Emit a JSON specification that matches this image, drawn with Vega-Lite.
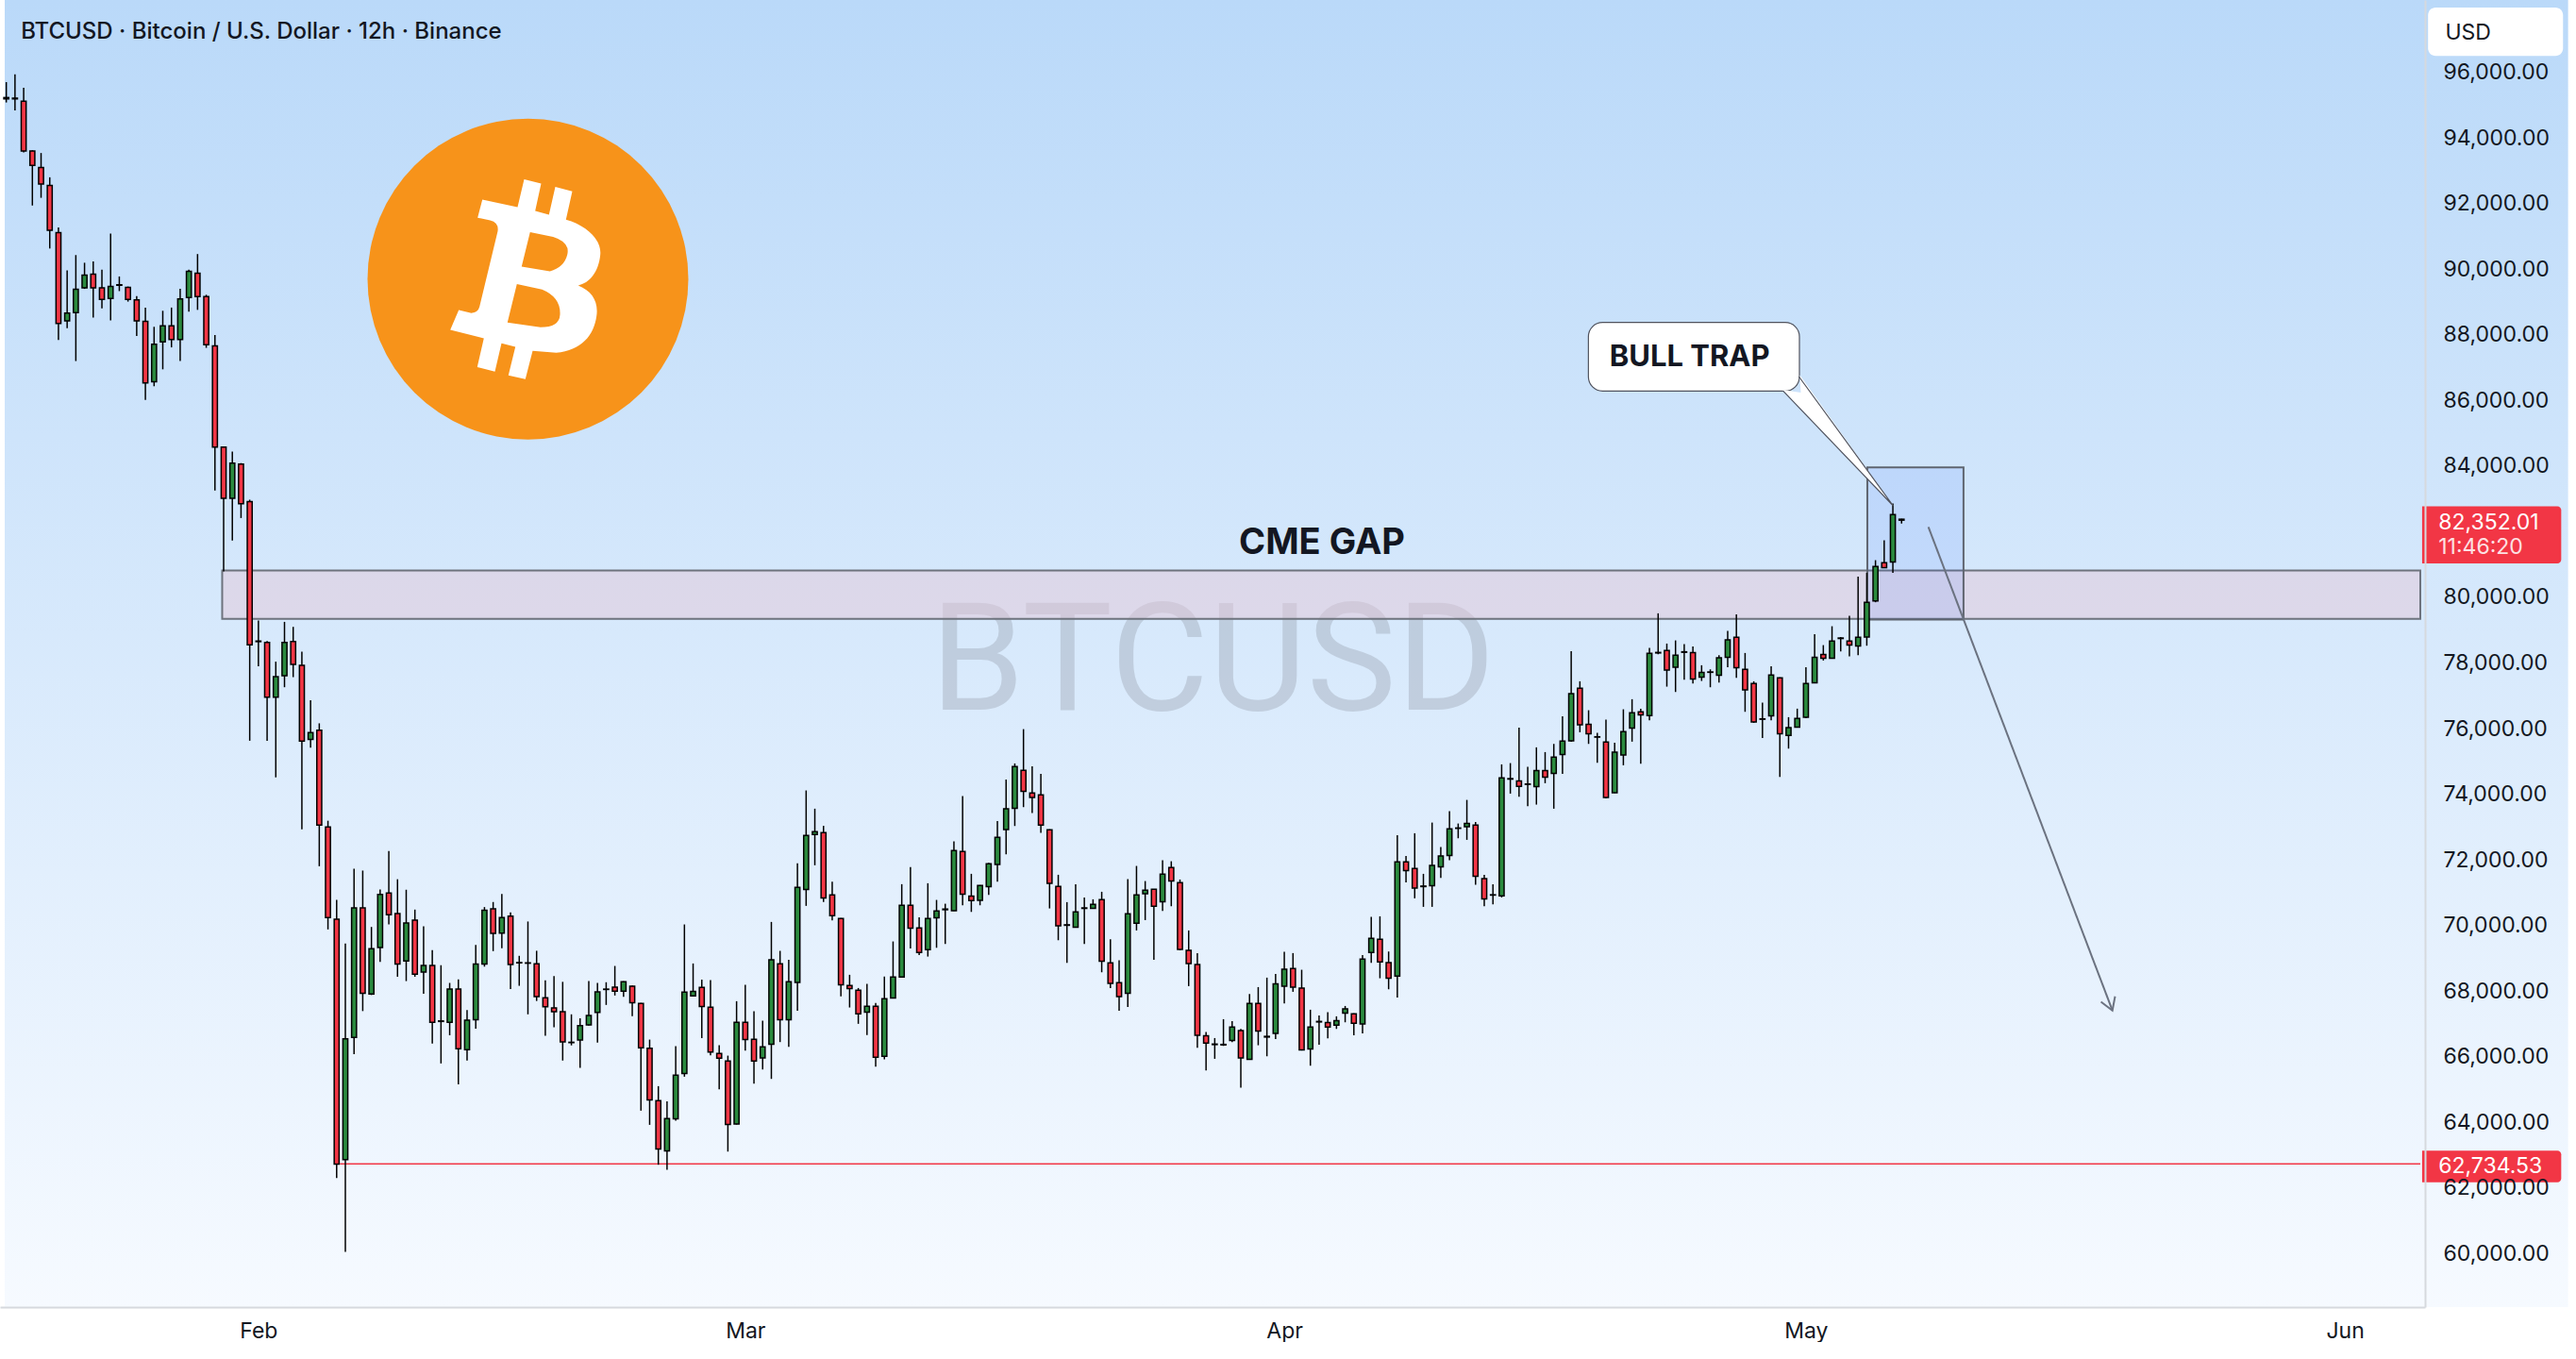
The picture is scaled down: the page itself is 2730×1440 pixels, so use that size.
{
  "$schema": "https://vega.github.io/schema/vega-lite/v6.json",
  "width": 2570,
  "height": 1385,
  "padding": 0,
  "background": "#ffffff",
  "config": {
    "view": {"stroke": null},
    "text": {"font": "Inter"},
    "axis": {"ticks": false, "tickSize": 0, "grid": false, "domainColor": "#d6d9de", "domainWidth": 2, "labelFont": "Inter", "labelFontSize": 23, "labelColor": "#131722", "labelFlush": false, "labelOverlap": false, "zindex": 1},
    "axisX": {"labelPadding": 14},
    "axisY": {"labelPadding": 19, "labelAlign": "left", "labelBaseline": "middle"}
  },
  "datasets": {
    "candles": [
      {"t":"2025-01-17T12:00","o":95230,"h":95700,"l":95080,"c":95190},
      {"t":"2025-01-18T00:00","o":95190,"h":95940,"l":94840,"c":95210},
      {"t":"2025-01-18T12:00","o":95120,"h":95530,"l":93560,"c":93600},
      {"t":"2025-01-19T00:00","o":93600,"h":93620,"l":91940,"c":93165},
      {"t":"2025-01-19T12:00","o":93095,"h":93540,"l":92175,"c":92594},
      {"t":"2025-01-20T00:00","o":92552,"h":92800,"l":90630,"c":91186},
      {"t":"2025-01-20T12:00","o":91116,"h":91270,"l":87840,"c":88342},
      {"t":"2025-01-21T00:00","o":88425,"h":89960,"l":88200,"c":88662},
      {"t":"2025-01-21T12:00","o":88676,"h":90430,"l":87200,"c":89387},
      {"t":"2025-01-22T00:00","o":89429,"h":90196,"l":89400,"c":89819},
      {"t":"2025-01-22T12:00","o":89847,"h":90238,"l":88523,"c":89429},
      {"t":"2025-01-23T00:00","o":89429,"h":89987,"l":88802,"c":89080},
      {"t":"2025-01-23T12:00","o":89108,"h":91088,"l":88439,"c":89471},
      {"t":"2025-01-24T00:00","o":89527,"h":89778,"l":89332,"c":89510},
      {"t":"2025-01-24T12:00","o":89443,"h":89470,"l":89011,"c":89080},
      {"t":"2025-01-25T00:00","o":89067,"h":89178,"l":87965,"c":88426},
      {"t":"2025-01-25T12:00","o":88412,"h":88830,"l":86014,"c":86530},
      {"t":"2025-01-26T00:00","o":86572,"h":88244,"l":86432,"c":87714},
      {"t":"2025-01-26T12:00","o":87784,"h":88732,"l":86948,"c":88272},
      {"t":"2025-01-27T00:00","o":88272,"h":88830,"l":87617,"c":87854},
      {"t":"2025-01-27T12:00","o":87854,"h":89401,"l":87199,"c":89094},
      {"t":"2025-01-28T00:00","o":89136,"h":89987,"l":88704,"c":89931},
      {"t":"2025-01-28T12:00","o":89875,"h":90461,"l":88760,"c":89164},
      {"t":"2025-01-29T00:00","o":89164,"h":89220,"l":87603,"c":87700},
      {"t":"2025-01-29T12:00","o":87659,"h":87993,"l":83254,"c":84578},
      {"t":"2025-01-30T00:00","o":84578,"h":84600,"l":80786,"c":83017},
      {"t":"2025-01-30T12:00","o":83017,"h":84438,"l":81734,"c":84090},
      {"t":"2025-01-31T00:00","o":84062,"h":84090,"l":82417,"c":82849},
      {"t":"2025-01-31T12:00","o":82919,"h":82975,"l":75629,"c":78556},
      {"t":"2025-02-01T00:00","o":78667,"h":79293,"l":77901,"c":78650},
      {"t":"2025-02-01T12:00","o":78626,"h":78667,"l":75629,"c":76953},
      {"t":"2025-02-02T00:00","o":76953,"h":78040,"l":74513,"c":77580},
      {"t":"2025-02-02T12:00","o":77608,"h":79253,"l":77260,"c":78626},
      {"t":"2025-02-03T00:00","o":78654,"h":79100,"l":77567,"c":77957},
      {"t":"2025-02-03T12:00","o":77929,"h":78347,"l":72927,"c":75620},
      {"t":"2025-02-04T00:00","o":75670,"h":76860,"l":75420,"c":75880},
      {"t":"2025-02-04T12:00","o":75950,"h":76160,"l":71805,"c":73059},
      {"t":"2025-02-05T00:00","o":73004,"h":73192,"l":69879,"c":70242},
      {"t":"2025-02-05T12:00","o":70187,"h":70781,"l":62306,"c":62724},
      {"t":"2025-02-06T00:00","o":62867,"h":69449,"l":60049,"c":66543},
      {"t":"2025-02-06T12:00","o":66588,"h":71728,"l":66081,"c":70539},
      {"t":"2025-02-07T00:00","o":70539,"h":71673,"l":67391,"c":67930},
      {"t":"2025-02-07T12:00","o":67908,"h":69955,"l":67880,"c":69295},
      {"t":"2025-02-08T00:00","o":69328,"h":71100,"l":68888,"c":70946},
      {"t":"2025-02-08T12:00","o":70990,"h":72267,"l":70033,"c":70330},
      {"t":"2025-02-09T00:00","o":70363,"h":71409,"l":68437,"c":68822},
      {"t":"2025-02-09T12:00","o":68921,"h":71089,"l":68305,"c":70077},
      {"t":"2025-02-10T00:00","o":70165,"h":70484,"l":68437,"c":68514},
      {"t":"2025-02-10T12:00","o":68580,"h":69978,"l":67919,"c":68778},
      {"t":"2025-02-11T00:00","o":68778,"h":69251,"l":66400,"c":67050},
      {"t":"2025-02-11T12:00","o":67090,"h":68789,"l":65795,"c":67075},
      {"t":"2025-02-12T00:00","o":67050,"h":68249,"l":66653,"c":68062},
      {"t":"2025-02-12T12:00","o":68062,"h":68359,"l":65156,"c":66246},
      {"t":"2025-02-13T00:00","o":66213,"h":67424,"l":65883,"c":67116},
      {"t":"2025-02-13T12:00","o":67127,"h":69405,"l":66851,"c":68822},
      {"t":"2025-02-14T00:00","o":68822,"h":70561,"l":68745,"c":70462},
      {"t":"2025-02-14T12:00","o":70506,"h":70715,"l":69218,"c":69757},
      {"t":"2025-02-15T00:00","o":69768,"h":70957,"l":69306,"c":70242},
      {"t":"2025-02-15T12:00","o":70286,"h":70396,"l":68062,"c":68811},
      {"t":"2025-02-16T00:00","o":68870,"h":69075,"l":68161,"c":68860},
      {"t":"2025-02-16T12:00","o":68860,"h":70121,"l":67292,"c":68850},
      {"t":"2025-02-17T00:00","o":68833,"h":69229,"l":67699,"c":67831},
      {"t":"2025-02-17T12:00","o":67798,"h":68326,"l":66642,"c":67523},
      {"t":"2025-02-18T00:00","o":67490,"h":68459,"l":66895,"c":67369},
      {"t":"2025-02-18T12:00","o":67369,"h":68282,"l":65883,"c":66455},
      {"t":"2025-02-19T00:00","o":66440,"h":67292,"l":66345,"c":66430},
      {"t":"2025-02-19T12:00","o":66510,"h":67171,"l":65663,"c":66950},
      {"t":"2025-02-20T00:00","o":66972,"h":68304,"l":66950,"c":67259},
      {"t":"2025-02-20T12:00","o":67347,"h":68249,"l":66433,"c":67974},
      {"t":"2025-02-21T00:00","o":68050,"h":68270,"l":67578,"c":68060},
      {"t":"2025-02-21T12:00","o":68120,"h":68766,"l":67865,"c":68000},
      {"t":"2025-02-22T00:00","o":67999,"h":68300,"l":67826,"c":68286},
      {"t":"2025-02-22T12:00","o":68152,"h":68170,"l":67232,"c":67644},
      {"t":"2025-02-23T00:00","o":67625,"h":67640,"l":64356,"c":66273},
      {"t":"2025-02-23T12:00","o":66254,"h":66522,"l":63924,"c":64682},
      {"t":"2025-02-24T00:00","o":64663,"h":65103,"l":62707,"c":63186},
      {"t":"2025-02-24T12:00","o":63129,"h":64643,"l":62553,"c":64116},
      {"t":"2025-02-25T00:00","o":64107,"h":66321,"l":64049,"c":65439},
      {"t":"2025-02-25T12:00","o":65487,"h":70031,"l":65391,"c":67970},
      {"t":"2025-02-26T00:00","o":67855,"h":68842,"l":67840,"c":67989},
      {"t":"2025-02-26T12:00","o":68114,"h":68353,"l":66570,"c":67529},
      {"t":"2025-02-27T00:00","o":67510,"h":68334,"l":66043,"c":66139},
      {"t":"2025-02-27T12:00","o":66101,"h":66350,"l":65008,"c":65957},
      {"t":"2025-02-28T00:00","o":65871,"h":66033,"l":63109,"c":63934},
      {"t":"2025-02-28T12:00","o":63953,"h":67692,"l":63934,"c":67050},
      {"t":"2025-03-01T00:00","o":67050,"h":68190,"l":66187,"c":66523},
      {"t":"2025-03-01T12:00","o":66532,"h":67385,"l":65180,"c":65871},
      {"t":"2025-03-02T00:00","o":65966,"h":67098,"l":65611,"c":66302},
      {"t":"2025-03-02T12:00","o":66378,"h":70108,"l":65324,"c":68957},
      {"t":"2025-03-03T00:00","o":68833,"h":69226,"l":66446,"c":67126},
      {"t":"2025-03-03T12:00","o":67126,"h":68957,"l":66302,"c":68286},
      {"t":"2025-03-04T00:00","o":68267,"h":71891,"l":67404,"c":71162},
      {"t":"2025-03-04T12:00","o":71095,"h":74115,"l":70597,"c":72744},
      {"t":"2025-03-05T00:00","o":72773,"h":73559,"l":71834,"c":72859},
      {"t":"2025-03-05T12:00","o":72830,"h":73041,"l":70712,"c":70836},
      {"t":"2025-03-06T00:00","o":70932,"h":71335,"l":70156,"c":70299},
      {"t":"2025-03-06T12:00","o":70213,"h":70230,"l":67836,"c":68190},
      {"t":"2025-03-07T00:00","o":68171,"h":68497,"l":67500,"c":68075},
      {"t":"2025-03-07T12:00","o":68027,"h":68094,"l":67002,"c":67308},
      {"t":"2025-03-08T00:00","o":67356,"h":68219,"l":66657,"c":67539},
      {"t":"2025-03-08T12:00","o":67539,"h":67635,"l":65698,"c":65985},
      {"t":"2025-03-09T00:00","o":66014,"h":68440,"l":65918,"c":67769},
      {"t":"2025-03-09T12:00","o":67788,"h":69513,"l":67780,"c":68430},
      {"t":"2025-03-10T00:00","o":68430,"h":71258,"l":68420,"c":70616},
      {"t":"2025-03-10T12:00","o":70616,"h":71776,"l":69302,"c":69916},
      {"t":"2025-03-11T00:00","o":69924,"h":70250,"l":69100,"c":69177},
      {"t":"2025-03-11T12:00","o":69263,"h":71286,"l":69052,"c":70212},
      {"t":"2025-03-12T00:00","o":70231,"h":70778,"l":69320,"c":70442},
      {"t":"2025-03-12T12:00","o":70480,"h":70663,"l":69436,"c":70500},
      {"t":"2025-03-13T00:00","o":70452,"h":72561,"l":70440,"c":72283},
      {"t":"2025-03-13T12:00","o":72254,"h":73941,"l":70615,"c":70950},
      {"t":"2025-03-14T00:00","o":70893,"h":71574,"l":70413,"c":70759},
      {"t":"2025-03-14T12:00","o":70768,"h":71230,"l":70615,"c":71219},
      {"t":"2025-03-15T00:00","o":71180,"h":71909,"l":70931,"c":71880},
      {"t":"2025-03-15T12:00","o":71861,"h":73184,"l":71334,"c":72686},
      {"t":"2025-03-16T00:00","o":72925,"h":74450,"l":72168,"c":73558},
      {"t":"2025-03-16T12:00","o":73567,"h":74938,"l":73031,"c":74843},
      {"t":"2025-03-17T00:00","o":74728,"h":75983,"l":73606,"c":74085},
      {"t":"2025-03-17T12:00","o":74037,"h":74852,"l":73424,"c":73903},
      {"t":"2025-03-18T00:00","o":73980,"h":74622,"l":72820,"c":73060},
      {"t":"2025-03-18T12:00","o":72916,"h":72930,"l":70519,"c":71286},
      {"t":"2025-03-19T00:00","o":71190,"h":71545,"l":69550,"c":69992},
      {"t":"2025-03-19T12:00","o":70020,"h":70711,"l":68860,"c":70005},
      {"t":"2025-03-20T00:00","o":69944,"h":71257,"l":69930,"c":70413},
      {"t":"2025-03-20T12:00","o":70520,"h":70854,"l":69436,"c":70535},
      {"t":"2025-03-21T00:00","o":70519,"h":70797,"l":70510,"c":70643},
      {"t":"2025-03-21T12:00","o":70787,"h":71027,"l":68573,"c":68908},
      {"t":"2025-03-22T00:00","o":68860,"h":69579,"l":68093,"c":68237},
      {"t":"2025-03-22T12:00","o":68257,"h":68937,"l":67403,"c":67835},
      {"t":"2025-03-23T00:00","o":67930,"h":71410,"l":67518,"c":70356},
      {"t":"2025-03-23T12:00","o":70068,"h":71814,"l":69848,"c":70931},
      {"t":"2025-03-24T00:00","o":70970,"h":71353,"l":70164,"c":71075},
      {"t":"2025-03-24T12:00","o":71104,"h":71110,"l":68956,"c":70586},
      {"t":"2025-03-25T00:00","o":70720,"h":71986,"l":70442,"c":71564},
      {"t":"2025-03-25T12:00","o":71765,"h":71957,"l":70586,"c":71353},
      {"t":"2025-03-26T00:00","o":71305,"h":71401,"l":69244,"c":69273},
      {"t":"2025-03-26T12:00","o":69244,"h":69848,"l":68151,"c":68841},
      {"t":"2025-03-27T00:00","o":68812,"h":69157,"l":66272,"c":66655},
      {"t":"2025-03-27T12:00","o":66636,"h":66751,"l":65582,"c":66416},
      {"t":"2025-03-28T00:00","o":66385,"h":66569,"l":65936,"c":66370},
      {"t":"2025-03-28T12:00","o":66375,"h":67144,"l":66330,"c":66360},
      {"t":"2025-03-29T00:00","o":66493,"h":67087,"l":66445,"c":66905},
      {"t":"2025-03-29T12:00","o":66799,"h":66847,"l":65054,"c":65965},
      {"t":"2025-03-30T00:00","o":65917,"h":67911,"l":65910,"c":67624},
      {"t":"2025-03-30T12:00","o":67624,"h":68122,"l":66349,"c":66780},
      {"t":"2025-03-31T00:00","o":66620,"h":68410,"l":66013,"c":66600},
      {"t":"2025-03-31T12:00","o":66713,"h":68525,"l":66540,"c":68218},
      {"t":"2025-04-01T00:00","o":68151,"h":69196,"l":67624,"c":68669},
      {"t":"2025-04-01T12:00","o":68688,"h":69158,"l":67978,"c":68122},
      {"t":"2025-04-02T00:00","o":68093,"h":68650,"l":66190,"c":66205},
      {"t":"2025-04-02T12:00","o":66234,"h":67432,"l":65726,"c":66905},
      {"t":"2025-04-03T00:00","o":67075,"h":67260,"l":66368,"c":67060},
      {"t":"2025-04-03T12:00","o":67039,"h":67355,"l":66560,"c":66905},
      {"t":"2025-04-04T00:00","o":66962,"h":67231,"l":66847,"c":67096},
      {"t":"2025-04-04T12:00","o":67326,"h":67547,"l":67049,"c":67461},
      {"t":"2025-04-05T00:00","o":67307,"h":67320,"l":66656,"c":67020},
      {"t":"2025-04-05T12:00","o":67000,"h":69100,"l":66713,"c":68975},
      {"t":"2025-04-06T00:00","o":69177,"h":70260,"l":68861,"c":69608},
      {"t":"2025-04-06T12:00","o":69579,"h":70279,"l":68391,"c":68889},
      {"t":"2025-04-07T00:00","o":68870,"h":69206,"l":68055,"c":68391},
      {"t":"2025-04-07T12:00","o":68458,"h":72753,"l":67806,"c":71938},
      {"t":"2025-04-08T00:00","o":71938,"h":72120,"l":71315,"c":71670},
      {"t":"2025-04-08T12:00","o":71737,"h":72810,"l":70826,"c":71142},
      {"t":"2025-04-09T00:00","o":71200,"h":71574,"l":70567,"c":71185},
      {"t":"2025-04-09T12:00","o":71209,"h":73136,"l":70567,"c":71833},
      {"t":"2025-04-10T00:00","o":71785,"h":72388,"l":71449,"c":72120},
      {"t":"2025-04-10T12:00","o":72130,"h":73481,"l":71986,"c":72944},
      {"t":"2025-04-11T00:00","o":72960,"h":73107,"l":72657,"c":72970},
      {"t":"2025-04-11T12:00","o":73012,"h":73826,"l":72609,"c":73107},
      {"t":"2025-04-12T00:00","o":73060,"h":73155,"l":71238,"c":71497},
      {"t":"2025-04-12T12:00","o":71430,"h":71545,"l":70586,"c":70806},
      {"t":"2025-04-13T00:00","o":70935,"h":71257,"l":70644,"c":70925},
      {"t":"2025-04-13T12:00","o":70902,"h":74909,"l":70854,"c":74496},
      {"t":"2025-04-14T00:00","o":74460,"h":74948,"l":74018,"c":74475},
      {"t":"2025-04-14T12:00","o":74402,"h":76031,"l":73922,"c":74238},
      {"t":"2025-04-15T00:00","o":74300,"h":74833,"l":73635,"c":74310},
      {"t":"2025-04-15T12:00","o":74229,"h":75428,"l":73683,"c":74718},
      {"t":"2025-04-16T00:00","o":74718,"h":75284,"l":74335,"c":74517},
      {"t":"2025-04-16T12:00","o":74632,"h":75533,"l":73558,"c":75131},
      {"t":"2025-04-17T00:00","o":75207,"h":76377,"l":74622,"c":75620},
      {"t":"2025-04-17T12:00","o":75629,"h":78361,"l":75601,"c":77067},
      {"t":"2025-04-18T00:00","o":77230,"h":77441,"l":75888,"c":76118},
      {"t":"2025-04-18T12:00","o":76128,"h":76559,"l":75533,"c":75840},
      {"t":"2025-04-19T00:00","o":75750,"h":75869,"l":74958,"c":75740},
      {"t":"2025-04-19T12:00","o":75591,"h":76271,"l":73875,"c":73904},
      {"t":"2025-04-20T00:00","o":74047,"h":75572,"l":74040,"c":75284},
      {"t":"2025-04-20T12:00","o":75198,"h":76588,"l":74881,"c":75907},
      {"t":"2025-04-21T00:00","o":76013,"h":76895,"l":75601,"c":76482},
      {"t":"2025-04-21T12:00","o":76511,"h":76607,"l":74929,"c":76415},
      {"t":"2025-04-22T00:00","o":76396,"h":78457,"l":76252,"c":78294},
      {"t":"2025-04-22T12:00","o":78320,"h":79512,"l":78265,"c":78305},
      {"t":"2025-04-23T00:00","o":78381,"h":78591,"l":77278,"c":77786},
      {"t":"2025-04-23T12:00","o":77872,"h":78687,"l":77115,"c":78237},
      {"t":"2025-04-24T00:00","o":78340,"h":78572,"l":77489,"c":78325},
      {"t":"2025-04-24T12:00","o":78313,"h":78505,"l":77374,"c":77508},
      {"t":"2025-04-25T00:00","o":77566,"h":77930,"l":77451,"c":77709},
      {"t":"2025-04-25T12:00","o":77725,"h":77805,"l":77259,"c":77715},
      {"t":"2025-04-26T00:00","o":77623,"h":78237,"l":77403,"c":78160},
      {"t":"2025-04-26T12:00","o":78170,"h":78975,"l":77872,"c":78706},
      {"t":"2025-04-27T00:00","o":78783,"h":79483,"l":77547,"c":77853},
      {"t":"2025-04-27T12:00","o":77805,"h":78304,"l":76511,"c":77182},
      {"t":"2025-04-28T00:00","o":77374,"h":77441,"l":76175,"c":76204},
      {"t":"2025-04-28T12:00","o":76295,"h":76789,"l":75715,"c":76285},
      {"t":"2025-04-29T00:00","o":76386,"h":77901,"l":76252,"c":77633},
      {"t":"2025-04-29T12:00","o":77546,"h":77560,"l":74526,"c":75840},
      {"t":"2025-04-30T00:00","o":75792,"h":76348,"l":75389,"c":76032},
      {"t":"2025-04-30T12:00","o":76041,"h":76607,"l":76030,"c":76310},
      {"t":"2025-05-01T00:00","o":76348,"h":77872,"l":76320,"c":77374},
      {"t":"2025-05-01T12:00","o":77393,"h":78879,"l":77380,"c":78170},
      {"t":"2025-05-02T00:00","o":78256,"h":78543,"l":78074,"c":78141},
      {"t":"2025-05-02T12:00","o":78141,"h":79119,"l":78130,"c":78668},
      {"t":"2025-05-03T00:00","o":78760,"h":78790,"l":78350,"c":78745},
      {"t":"2025-05-03T12:00","o":78668,"h":79435,"l":78200,"c":78544},
      {"t":"2025-05-04T00:00","o":78515,"h":80633,"l":78237,"c":78783},
      {"t":"2025-05-04T12:00","o":78793,"h":80749,"l":78525,"c":79848},
      {"t":"2025-05-05T00:00","o":79887,"h":81132,"l":79850,"c":80941},
      {"t":"2025-05-05T12:00","o":81056,"h":81736,"l":80890,"c":80902},
      {"t":"2025-05-06T00:00","o":81075,"h":82858,"l":80749,"c":82522},
      {"t":"2025-05-06T12:00","o":82380,"h":82390,"l":82250,"c":82352.01}
    ]
  },
  "layer": [
    {
      "data": {"values": [{}]},
      "mark": {"type": "rect", "clip": false, "fill": {"gradient": "linear", "x1": 0, "y1": 0, "x2": 0, "y2": 1, "stops": [{"offset": 0, "color": "#bad9f9"}, {"offset": 1, "color": "#f6faff"}]}},
      "encoding": {
        "x": {"datum": {"year": 2025, "month": 1, "date": 17, "hours": 9, "minutes": 50}, "type": "temporal", "scale": {"domain": [{"year": 2025, "month": 1, "date": 17, "hours": 9, "minutes": 50}, {"year": 2025, "month": 6, "date": 5, "hours": 8}], "nice": false},
          "axis": {"title": null, "values": [{"year": 2025, "month": 2, "date": 1}, {"year": 2025, "month": 3, "date": 1}, {"year": 2025, "month": 4, "date": 1}, {"year": 2025, "month": 5, "date": 1}, {"year": 2025, "month": 6, "date": 1}], "format": "%b", "zindex": 1}},
        "x2": {"datum": {"year": 2025, "month": 6, "date": 13, "hours": 20}},
        "y": {"datum": 98203, "type": "quantitative", "scale": {"domain": [58370, 98203], "zero": false, "nice": false},
          "axis": {"orient": "right", "title": null, "values": [60000, 62000, 64000, 66000, 68000, 70000, 72000, 74000, 76000, 78000, 80000, 84000, 86000, 88000, 90000, 92000, 94000, 96000], "format": ",.2f", "zindex": 1}},
        "y2": {"datum": 58370}
      }
    },
    {
      "data": {"values": [{}]},
      "mark": {"type": "text", "text": "BTCUSD", "font": "Roboto", "fontSize": 160, "align": "center", "baseline": "alphabetic", "fill": "#787b86", "opacity": 0.25},
      "encoding": {
        "x": {"datum": {"year": 2025, "month": 3, "date": 27, "hours": 21, "minutes": 20}, "type": "temporal", "scale": {"domain": [{"year": 2025, "month": 1, "date": 17, "hours": 9, "minutes": 50}, {"year": 2025, "month": 6, "date": 5, "hours": 8}], "nice": false},
          "axis": {"title": null, "values": [{"year": 2025, "month": 2, "date": 1}, {"year": 2025, "month": 3, "date": 1}, {"year": 2025, "month": 4, "date": 1}, {"year": 2025, "month": 5, "date": 1}, {"year": 2025, "month": 6, "date": 1}], "format": "%b", "zindex": 1}},
        "y": {"datum": 76575, "type": "quantitative", "scale": {"domain": [58370, 98203], "zero": false, "nice": false},
          "axis": {"orient": "right", "title": null, "values": [60000, 62000, 64000, 66000, 68000, 70000, 72000, 74000, 76000, 78000, 80000, 84000, 86000, 88000, 90000, 92000, 94000, 96000], "format": ",.2f", "zindex": 1}}
      }
    },
    {
      "data": {"values": [{}]},
      "mark": {"type": "point", "shape": "circle", "size": 115600, "filled": true, "fill": "#f7931a", "opacity": 1, "strokeWidth": 0},
      "encoding": {
        "x": {"datum": {"year": 2025, "month": 2, "date": 16, "hours": 12}, "type": "temporal", "scale": {"domain": [{"year": 2025, "month": 1, "date": 17, "hours": 9, "minutes": 50}, {"year": 2025, "month": 6, "date": 5, "hours": 8}], "nice": false},
          "axis": {"title": null, "values": [{"year": 2025, "month": 2, "date": 1}, {"year": 2025, "month": 3, "date": 1}, {"year": 2025, "month": 4, "date": 1}, {"year": 2025, "month": 5, "date": 1}, {"year": 2025, "month": 6, "date": 1}], "format": "%b", "zindex": 1}},
        "y": {"datum": 89699, "type": "quantitative", "scale": {"domain": [58370, 98203], "zero": false, "nice": false},
          "axis": {"orient": "right", "title": null, "values": [60000, 62000, 64000, 66000, 68000, 70000, 72000, 74000, 76000, 78000, 80000, 84000, 86000, 88000, 90000, 92000, 94000, 96000], "format": ",.2f", "zindex": 1}}
      }
    },
    {
      "data": {"values": [{}]},
      "mark": {"type": "point", "shape": "M -48.3 -84.3 L -11 -76.3 L -4 -105.7 L 14 -101.3 L 7.7 -72.3 L 22.3 -68.3 L 29 -97.7 L 47 -93 L 40.3 -63 C 63.3 -56.7 78.3 -40.7 76.7 -25.7 C 75 -7.3 65 4.3 53.3 6.7 C 68.3 12.7 75 24.3 72.7 39.3 C 70 59.3 56.7 76 30 78 L 5 76 L -2.7 106 L -20.7 102 L -13.3 71.7 L -28 68 L -35 98 L -53.7 93.3 L -46.7 62.7 L -82.3 53.7 L -73.3 32.7 L -60 36 Q -52.7 35.3 -51.3 29.3 L -32 -50.7 Q -30.7 -60 -40 -62.3 L -53.3 -65 Z M 2.3 -49.7 L -6.7 -13.3 L 23.3 -8.3 Q 38.3 -12.3 41.7 -25.7 Q 45 -39 26.7 -44.7 Z M -11.7 5.3 L -21.7 46 L 13.3 51 Q 33.3 51 34 37.7 Q 35 19.3 15 11 Z", "size": 4, "filled": true, "fill": "#ffffff", "opacity": 1, "strokeWidth": 0},
      "encoding": {
        "x": {"datum": {"year": 2025, "month": 2, "date": 16, "hours": 12}, "type": "temporal", "scale": {"domain": [{"year": 2025, "month": 1, "date": 17, "hours": 9, "minutes": 50}, {"year": 2025, "month": 6, "date": 5, "hours": 8}], "nice": false},
          "axis": {"title": null, "values": [{"year": 2025, "month": 2, "date": 1}, {"year": 2025, "month": 3, "date": 1}, {"year": 2025, "month": 4, "date": 1}, {"year": 2025, "month": 5, "date": 1}, {"year": 2025, "month": 6, "date": 1}], "format": "%b", "zindex": 1}},
        "y": {"datum": 89699, "type": "quantitative", "scale": {"domain": [58370, 98203], "zero": false, "nice": false},
          "axis": {"orient": "right", "title": null, "values": [60000, 62000, 64000, 66000, 68000, 70000, 72000, 74000, 76000, 78000, 80000, 84000, 86000, 88000, 90000, 92000, 94000, 96000], "format": ",.2f", "zindex": 1}}
      }
    },
    {
      "data": {"values": [{}]},
      "mark": {"type": "rect", "fill": "#e3c8d8", "fillOpacity": 0.5, "stroke": "#6e737d", "strokeWidth": 2},
      "encoding": {
        "x": {"datum": {"year": 2025, "month": 1, "date": 29, "hours": 22}, "type": "temporal", "scale": {"domain": [{"year": 2025, "month": 1, "date": 17, "hours": 9, "minutes": 50}, {"year": 2025, "month": 6, "date": 5, "hours": 8}], "nice": false},
          "axis": {"title": null, "values": [{"year": 2025, "month": 2, "date": 1}, {"year": 2025, "month": 3, "date": 1}, {"year": 2025, "month": 4, "date": 1}, {"year": 2025, "month": 5, "date": 1}, {"year": 2025, "month": 6, "date": 1}], "format": "%b", "zindex": 1}},
        "x2": {"datum": {"year": 2025, "month": 6, "date": 5, "hours": 8}},
        "y": {"datum": 79340, "type": "quantitative", "scale": {"domain": [58370, 98203], "zero": false, "nice": false},
          "axis": {"orient": "right", "title": null, "values": [60000, 62000, 64000, 66000, 68000, 70000, 72000, 74000, 76000, 78000, 80000, 84000, 86000, 88000, 90000, 92000, 94000, 96000], "format": ",.2f", "zindex": 1}},
        "y2": {"datum": 80820}
      }
    },
    {
      "data": {"values": [{}]},
      "mark": {"type": "rect", "fill": "#2962ff", "fillOpacity": 0.1, "stroke": "#5f6570", "strokeWidth": 2},
      "encoding": {
        "x": {"datum": {"year": 2025, "month": 5, "date": 4, "hours": 12, "minutes": 45}, "type": "temporal", "scale": {"domain": [{"year": 2025, "month": 1, "date": 17, "hours": 9, "minutes": 50}, {"year": 2025, "month": 6, "date": 5, "hours": 8}], "nice": false},
          "axis": {"title": null, "values": [{"year": 2025, "month": 2, "date": 1}, {"year": 2025, "month": 3, "date": 1}, {"year": 2025, "month": 4, "date": 1}, {"year": 2025, "month": 5, "date": 1}, {"year": 2025, "month": 6, "date": 1}], "format": "%b", "zindex": 1}},
        "x2": {"datum": {"year": 2025, "month": 5, "date": 10, "hours": 1, "minutes": 30}},
        "y": {"datum": 79320, "type": "quantitative", "scale": {"domain": [58370, 98203], "zero": false, "nice": false},
          "axis": {"orient": "right", "title": null, "values": [60000, 62000, 64000, 66000, 68000, 70000, 72000, 74000, 76000, 78000, 80000, 84000, 86000, 88000, 90000, 92000, 94000, 96000], "format": ",.2f", "zindex": 1}},
        "y2": {"datum": 83960}
      }
    },
    {
      "data": {"values": [{}]},
      "mark": {"type": "rule", "color": "#f23645", "strokeWidth": 1.6},
      "encoding": {
        "x": {"datum": {"year": 2025, "month": 2, "date": 5, "hours": 16, "minutes": 30}, "type": "temporal", "scale": {"domain": [{"year": 2025, "month": 1, "date": 17, "hours": 9, "minutes": 50}, {"year": 2025, "month": 6, "date": 5, "hours": 8}], "nice": false},
          "axis": {"title": null, "values": [{"year": 2025, "month": 2, "date": 1}, {"year": 2025, "month": 3, "date": 1}, {"year": 2025, "month": 4, "date": 1}, {"year": 2025, "month": 5, "date": 1}, {"year": 2025, "month": 6, "date": 1}], "format": "%b", "zindex": 1}},
        "x2": {"datum": {"year": 2025, "month": 6, "date": 5, "hours": 8}},
        "y": {"datum": 62734.53, "type": "quantitative", "scale": {"domain": [58370, 98203], "zero": false, "nice": false},
          "axis": {"orient": "right", "title": null, "values": [60000, 62000, 64000, 66000, 68000, 70000, 72000, 74000, 76000, 78000, 80000, 84000, 86000, 88000, 90000, 92000, 94000, 96000], "format": ",.2f", "zindex": 1}}
      }
    },
    {
      "data": {"name": "candles"},
      "mark": {"type": "rule", "color": "#000000", "strokeWidth": 1.5, "clip": true},
      "encoding": {
        "x": {"field": "t", "type": "temporal", "scale": {"domain": [{"year": 2025, "month": 1, "date": 17, "hours": 9, "minutes": 50}, {"year": 2025, "month": 6, "date": 5, "hours": 8}], "nice": false},
          "axis": {"title": null, "values": [{"year": 2025, "month": 2, "date": 1}, {"year": 2025, "month": 3, "date": 1}, {"year": 2025, "month": 4, "date": 1}, {"year": 2025, "month": 5, "date": 1}, {"year": 2025, "month": 6, "date": 1}], "format": "%b", "zindex": 1}},
        "y": {"field": "l", "type": "quantitative", "scale": {"domain": [58370, 98203], "zero": false, "nice": false},
          "axis": {"orient": "right", "title": null, "values": [60000, 62000, 64000, 66000, 68000, 70000, 72000, 74000, 76000, 78000, 80000, 84000, 86000, 88000, 90000, 92000, 94000, 96000], "format": ",.2f", "zindex": 1}},
        "y2": {"field": "h"}
      }
    },
    {
      "data": {"name": "candles"},
      "mark": {"type": "bar", "width": 5.2, "stroke": "#000000", "strokeWidth": 1.5, "clip": true},
      "encoding": {
        "x": {"field": "t", "type": "temporal", "scale": {"domain": [{"year": 2025, "month": 1, "date": 17, "hours": 9, "minutes": 50}, {"year": 2025, "month": 6, "date": 5, "hours": 8}], "nice": false},
          "axis": {"title": null, "values": [{"year": 2025, "month": 2, "date": 1}, {"year": 2025, "month": 3, "date": 1}, {"year": 2025, "month": 4, "date": 1}, {"year": 2025, "month": 5, "date": 1}, {"year": 2025, "month": 6, "date": 1}], "format": "%b", "zindex": 1}},
        "y": {"field": "o", "type": "quantitative", "scale": {"domain": [58370, 98203], "zero": false, "nice": false},
          "axis": {"orient": "right", "title": null, "values": [60000, 62000, 64000, 66000, 68000, 70000, 72000, 74000, 76000, 78000, 80000, 84000, 86000, 88000, 90000, 92000, 94000, 96000], "format": ",.2f", "zindex": 1}},
        "y2": {"field": "c"},
        "fill": {"condition": {"test": "datum.c >= datum.o", "value": "#2b8a3e"}, "value": "#f23645"}
      }
    },
    {
      "data": {"values": [{}]},
      "mark": {"type": "text", "text": "CME GAP", "font": "Inter", "fontWeight": "bold", "fontSize": 38, "align": "center", "baseline": "alphabetic", "fill": "#131722"},
      "encoding": {
        "x": {"datum": {"year": 2025, "month": 4, "date": 3, "hours": 4}, "type": "temporal", "scale": {"domain": [{"year": 2025, "month": 1, "date": 17, "hours": 9, "minutes": 50}, {"year": 2025, "month": 6, "date": 5, "hours": 8}], "nice": false},
          "axis": {"title": null, "values": [{"year": 2025, "month": 2, "date": 1}, {"year": 2025, "month": 3, "date": 1}, {"year": 2025, "month": 4, "date": 1}, {"year": 2025, "month": 5, "date": 1}, {"year": 2025, "month": 6, "date": 1}], "format": "%b", "zindex": 1}},
        "y": {"datum": 81329, "type": "quantitative", "scale": {"domain": [58370, 98203], "zero": false, "nice": false},
          "axis": {"orient": "right", "title": null, "values": [60000, 62000, 64000, 66000, 68000, 70000, 72000, 74000, 76000, 78000, 80000, 84000, 86000, 88000, 90000, 92000, 94000, 96000], "format": ",.2f", "zindex": 1}}
      }
    },
    {
      "data": {"values": [{}]},
      "mark": {"type": "rule", "color": "#6b7280", "strokeWidth": 2},
      "encoding": {
        "x": {"datum": {"year": 2025, "month": 5, "date": 8, "hours": 1}, "type": "temporal", "scale": {"domain": [{"year": 2025, "month": 1, "date": 17, "hours": 9, "minutes": 50}, {"year": 2025, "month": 6, "date": 5, "hours": 8}], "nice": false},
          "axis": {"title": null, "values": [{"year": 2025, "month": 2, "date": 1}, {"year": 2025, "month": 3, "date": 1}, {"year": 2025, "month": 4, "date": 1}, {"year": 2025, "month": 5, "date": 1}, {"year": 2025, "month": 6, "date": 1}], "format": "%b", "zindex": 1}},
        "x2": {"datum": {"year": 2025, "month": 5, "date": 18, "hours": 15}},
        "y": {"datum": 82146, "type": "quantitative", "scale": {"domain": [58370, 98203], "zero": false, "nice": false},
          "axis": {"orient": "right", "title": null, "values": [60000, 62000, 64000, 66000, 68000, 70000, 72000, 74000, 76000, 78000, 80000, 84000, 86000, 88000, 90000, 92000, 94000, 96000], "format": ",.2f", "zindex": 1}},
        "y2": {"datum": 67409}
      }
    },
    {
      "data": {"values": [{}]},
      "mark": {"type": "point", "shape": "M -8 -13 L 0 0 L 8 -13", "size": 4, "filled": false, "stroke": "#6b7280", "strokeWidth": 2, "opacity": 1, "angle": -20.9},
      "encoding": {
        "x": {"datum": {"year": 2025, "month": 5, "date": 18, "hours": 15}, "type": "temporal", "scale": {"domain": [{"year": 2025, "month": 1, "date": 17, "hours": 9, "minutes": 50}, {"year": 2025, "month": 6, "date": 5, "hours": 8}], "nice": false},
          "axis": {"title": null, "values": [{"year": 2025, "month": 2, "date": 1}, {"year": 2025, "month": 3, "date": 1}, {"year": 2025, "month": 4, "date": 1}, {"year": 2025, "month": 5, "date": 1}, {"year": 2025, "month": 6, "date": 1}], "format": "%b", "zindex": 1}},
        "y": {"datum": 67409, "type": "quantitative", "scale": {"domain": [58370, 98203], "zero": false, "nice": false},
          "axis": {"orient": "right", "title": null, "values": [60000, 62000, 64000, 66000, 68000, 70000, 72000, 74000, 76000, 78000, 80000, 84000, 86000, 88000, 90000, 92000, 94000, 96000], "format": ",.2f", "zindex": 1}}
      }
    },
    {
      "data": {"values": [{}]},
      "mark": {"type": "rect", "fill": "#ffffff", "stroke": "#50535e", "strokeWidth": 1.2, "cornerRadius": 15},
      "encoding": {
        "x": {"datum": {"year": 2025, "month": 4, "date": 18, "hours": 11, "minutes": 45}, "type": "temporal", "scale": {"domain": [{"year": 2025, "month": 1, "date": 17, "hours": 9, "minutes": 50}, {"year": 2025, "month": 6, "date": 5, "hours": 8}], "nice": false},
          "axis": {"title": null, "values": [{"year": 2025, "month": 2, "date": 1}, {"year": 2025, "month": 3, "date": 1}, {"year": 2025, "month": 4, "date": 1}, {"year": 2025, "month": 5, "date": 1}, {"year": 2025, "month": 6, "date": 1}], "format": "%b", "zindex": 1}},
        "x2": {"datum": {"year": 2025, "month": 4, "date": 30, "hours": 15}},
        "y": {"datum": 86288, "type": "quantitative", "scale": {"domain": [58370, 98203], "zero": false, "nice": false},
          "axis": {"orient": "right", "title": null, "values": [60000, 62000, 64000, 66000, 68000, 70000, 72000, 74000, 76000, 78000, 80000, 84000, 86000, 88000, 90000, 92000, 94000, 96000], "format": ",.2f", "zindex": 1}},
        "y2": {"datum": 88376}
      }
    },
    {
      "data": {"values": [{}]},
      "mark": {"type": "point", "shape": "M -117.5 -123 L 0 0 L -99 -138.5 L -98 -120 Z", "size": 4, "filled": true, "fill": "#ffffff", "opacity": 1, "strokeWidth": 0},
      "encoding": {
        "x": {"datum": {"year": 2025, "month": 5, "date": 6, "hours": 0, "minutes": 30}, "type": "temporal", "scale": {"domain": [{"year": 2025, "month": 1, "date": 17, "hours": 9, "minutes": 50}, {"year": 2025, "month": 6, "date": 5, "hours": 8}], "nice": false},
          "axis": {"title": null, "values": [{"year": 2025, "month": 2, "date": 1}, {"year": 2025, "month": 3, "date": 1}, {"year": 2025, "month": 4, "date": 1}, {"year": 2025, "month": 5, "date": 1}, {"year": 2025, "month": 6, "date": 1}], "format": "%b", "zindex": 1}},
        "y": {"datum": 82787, "type": "quantitative", "scale": {"domain": [58370, 98203], "zero": false, "nice": false},
          "axis": {"orient": "right", "title": null, "values": [60000, 62000, 64000, 66000, 68000, 70000, 72000, 74000, 76000, 78000, 80000, 84000, 86000, 88000, 90000, 92000, 94000, 96000], "format": ",.2f", "zindex": 1}}
      }
    },
    {
      "data": {"values": [{}]},
      "mark": {"type": "point", "shape": "M -116.6 -121.7 L 0 0 L -100 -137", "size": 4, "filled": false, "stroke": "#50535e", "strokeWidth": 1.2, "opacity": 1},
      "encoding": {
        "x": {"datum": {"year": 2025, "month": 5, "date": 6, "hours": 0, "minutes": 30}, "type": "temporal", "scale": {"domain": [{"year": 2025, "month": 1, "date": 17, "hours": 9, "minutes": 50}, {"year": 2025, "month": 6, "date": 5, "hours": 8}], "nice": false},
          "axis": {"title": null, "values": [{"year": 2025, "month": 2, "date": 1}, {"year": 2025, "month": 3, "date": 1}, {"year": 2025, "month": 4, "date": 1}, {"year": 2025, "month": 5, "date": 1}, {"year": 2025, "month": 6, "date": 1}], "format": "%b", "zindex": 1}},
        "y": {"datum": 82787, "type": "quantitative", "scale": {"domain": [58370, 98203], "zero": false, "nice": false},
          "axis": {"orient": "right", "title": null, "values": [60000, 62000, 64000, 66000, 68000, 70000, 72000, 74000, 76000, 78000, 80000, 84000, 86000, 88000, 90000, 92000, 94000, 96000], "format": ",.2f", "zindex": 1}}
      }
    },
    {
      "data": {"values": [{}]},
      "mark": {"type": "text", "text": "BULL TRAP", "font": "Inter", "fontWeight": "bold", "fontSize": 31, "align": "left", "baseline": "alphabetic", "fill": "#131722"},
      "encoding": {
        "x": {"datum": {"year": 2025, "month": 4, "date": 19, "hours": 16, "minutes": 50}, "type": "temporal", "scale": {"domain": [{"year": 2025, "month": 1, "date": 17, "hours": 9, "minutes": 50}, {"year": 2025, "month": 6, "date": 5, "hours": 8}], "nice": false},
          "axis": {"title": null, "values": [{"year": 2025, "month": 2, "date": 1}, {"year": 2025, "month": 3, "date": 1}, {"year": 2025, "month": 4, "date": 1}, {"year": 2025, "month": 5, "date": 1}, {"year": 2025, "month": 6, "date": 1}], "format": "%b", "zindex": 1}},
        "y": {"datum": 87035, "type": "quantitative", "scale": {"domain": [58370, 98203], "zero": false, "nice": false},
          "axis": {"orient": "right", "title": null, "values": [60000, 62000, 64000, 66000, 68000, 70000, 72000, 74000, 76000, 78000, 80000, 84000, 86000, 88000, 90000, 92000, 94000, 96000], "format": ",.2f", "zindex": 1}}
      }
    },
    {
      "data": {"values": [{}]},
      "mark": {"type": "text", "text": "BTCUSD · Bitcoin / U.S. Dollar · 12h · Binance", "font": "Inter", "fontWeight": 500, "fontSize": 24, "align": "left", "baseline": "alphabetic", "fill": "#131722"},
      "encoding": {
        "x": {"datum": {"year": 2025, "month": 1, "date": 18, "hours": 8, "minutes": 10}, "type": "temporal", "scale": {"domain": [{"year": 2025, "month": 1, "date": 17, "hours": 9, "minutes": 50}, {"year": 2025, "month": 6, "date": 5, "hours": 8}], "nice": false},
          "axis": {"title": null, "values": [{"year": 2025, "month": 2, "date": 1}, {"year": 2025, "month": 3, "date": 1}, {"year": 2025, "month": 4, "date": 1}, {"year": 2025, "month": 5, "date": 1}, {"year": 2025, "month": 6, "date": 1}], "format": "%b", "zindex": 1}},
        "y": {"datum": 97032, "type": "quantitative", "scale": {"domain": [58370, 98203], "zero": false, "nice": false},
          "axis": {"orient": "right", "title": null, "values": [60000, 62000, 64000, 66000, 68000, 70000, 72000, 74000, 76000, 78000, 80000, 84000, 86000, 88000, 90000, 92000, 94000, 96000], "format": ",.2f", "zindex": 1}}
      }
    },
    {
      "data": {"values": [{}]},
      "mark": {"type": "rect", "clip": false, "fill": "#ffffff", "cornerRadius": 8},
      "encoding": {
        "x": {"datum": {"year": 2025, "month": 6, "date": 5, "hours": 18, "minutes": 40}, "type": "temporal", "scale": {"domain": [{"year": 2025, "month": 1, "date": 17, "hours": 9, "minutes": 50}, {"year": 2025, "month": 6, "date": 5, "hours": 8}], "nice": false},
          "axis": {"title": null, "values": [{"year": 2025, "month": 2, "date": 1}, {"year": 2025, "month": 3, "date": 1}, {"year": 2025, "month": 4, "date": 1}, {"year": 2025, "month": 5, "date": 1}, {"year": 2025, "month": 6, "date": 1}], "format": "%b", "zindex": 1}},
        "x2": {"datum": {"year": 2025, "month": 6, "date": 13, "hours": 13}},
        "y": {"datum": 96497, "type": "quantitative", "scale": {"domain": [58370, 98203], "zero": false, "nice": false},
          "axis": {"orient": "right", "title": null, "values": [60000, 62000, 64000, 66000, 68000, 70000, 72000, 74000, 76000, 78000, 80000, 84000, 86000, 88000, 90000, 92000, 94000, 96000], "format": ",.2f", "zindex": 1}},
        "y2": {"datum": 97976}
      }
    },
    {
      "data": {"values": [{}]},
      "mark": {"type": "text", "text": "USD", "font": "Inter", "fontSize": 23, "align": "left", "baseline": "alphabetic", "fill": "#131722"},
      "encoding": {
        "x": {"datum": {"year": 2025, "month": 6, "date": 6, "hours": 18, "minutes": 30}, "type": "temporal", "scale": {"domain": [{"year": 2025, "month": 1, "date": 17, "hours": 9, "minutes": 50}, {"year": 2025, "month": 6, "date": 5, "hours": 8}], "nice": false},
          "axis": {"title": null, "values": [{"year": 2025, "month": 2, "date": 1}, {"year": 2025, "month": 3, "date": 1}, {"year": 2025, "month": 4, "date": 1}, {"year": 2025, "month": 5, "date": 1}, {"year": 2025, "month": 6, "date": 1}], "format": "%b", "zindex": 1}},
        "y": {"datum": 97009, "type": "quantitative", "scale": {"domain": [58370, 98203], "zero": false, "nice": false},
          "axis": {"orient": "right", "title": null, "values": [60000, 62000, 64000, 66000, 68000, 70000, 72000, 74000, 76000, 78000, 80000, 84000, 86000, 88000, 90000, 92000, 94000, 96000], "format": ",.2f", "zindex": 1}}
      }
    },
    {
      "data": {"values": [{}]},
      "mark": {"type": "rect", "clip": false, "fill": "#f23645", "cornerRadiusTopRight": 4, "cornerRadiusBottomRight": 4},
      "encoding": {
        "x": {"datum": {"year": 2025, "month": 6, "date": 5, "hours": 10, "minutes": 30}, "type": "temporal", "scale": {"domain": [{"year": 2025, "month": 1, "date": 17, "hours": 9, "minutes": 50}, {"year": 2025, "month": 6, "date": 5, "hours": 8}], "nice": false},
          "axis": {"title": null, "values": [{"year": 2025, "month": 2, "date": 1}, {"year": 2025, "month": 3, "date": 1}, {"year": 2025, "month": 4, "date": 1}, {"year": 2025, "month": 5, "date": 1}, {"year": 2025, "month": 6, "date": 1}], "format": "%b", "zindex": 1}},
        "x2": {"datum": {"year": 2025, "month": 6, "date": 13, "hours": 10, "minutes": 30}},
        "y": {"datum": 81030, "type": "quantitative", "scale": {"domain": [58370, 98203], "zero": false, "nice": false},
          "axis": {"orient": "right", "title": null, "values": [60000, 62000, 64000, 66000, 68000, 70000, 72000, 74000, 76000, 78000, 80000, 84000, 86000, 88000, 90000, 92000, 94000, 96000], "format": ",.2f", "zindex": 1}},
        "y2": {"datum": 82770}
      }
    },
    {
      "data": {"values": [{}]},
      "mark": {"type": "text", "text": "82,352.01", "font": "Inter", "fontSize": 23, "align": "left", "baseline": "alphabetic", "fill": "#ffffff"},
      "encoding": {
        "x": {"datum": {"year": 2025, "month": 6, "date": 6, "hours": 9}, "type": "temporal", "scale": {"domain": [{"year": 2025, "month": 1, "date": 17, "hours": 9, "minutes": 50}, {"year": 2025, "month": 6, "date": 5, "hours": 8}], "nice": false},
          "axis": {"title": null, "values": [{"year": 2025, "month": 2, "date": 1}, {"year": 2025, "month": 3, "date": 1}, {"year": 2025, "month": 4, "date": 1}, {"year": 2025, "month": 5, "date": 1}, {"year": 2025, "month": 6, "date": 1}], "format": "%b", "zindex": 1}},
        "y": {"datum": 82077, "type": "quantitative", "scale": {"domain": [58370, 98203], "zero": false, "nice": false},
          "axis": {"orient": "right", "title": null, "values": [60000, 62000, 64000, 66000, 68000, 70000, 72000, 74000, 76000, 78000, 80000, 84000, 86000, 88000, 90000, 92000, 94000, 96000], "format": ",.2f", "zindex": 1}}
      }
    },
    {
      "data": {"values": [{}]},
      "mark": {"type": "text", "text": "11:46:20", "font": "Inter", "fontSize": 23, "align": "left", "baseline": "alphabetic", "fill": "#ffffff", "opacity": 0.85},
      "encoding": {
        "x": {"datum": {"year": 2025, "month": 6, "date": 6, "hours": 9}, "type": "temporal", "scale": {"domain": [{"year": 2025, "month": 1, "date": 17, "hours": 9, "minutes": 50}, {"year": 2025, "month": 6, "date": 5, "hours": 8}], "nice": false},
          "axis": {"title": null, "values": [{"year": 2025, "month": 2, "date": 1}, {"year": 2025, "month": 3, "date": 1}, {"year": 2025, "month": 4, "date": 1}, {"year": 2025, "month": 5, "date": 1}, {"year": 2025, "month": 6, "date": 1}], "format": "%b", "zindex": 1}},
        "y": {"datum": 81315, "type": "quantitative", "scale": {"domain": [58370, 98203], "zero": false, "nice": false},
          "axis": {"orient": "right", "title": null, "values": [60000, 62000, 64000, 66000, 68000, 70000, 72000, 74000, 76000, 78000, 80000, 84000, 86000, 88000, 90000, 92000, 94000, 96000], "format": ",.2f", "zindex": 1}}
      }
    },
    {
      "data": {"values": [{}]},
      "mark": {"type": "rect", "clip": false, "fill": "#f23645", "cornerRadiusTopRight": 4, "cornerRadiusBottomRight": 4},
      "encoding": {
        "x": {"datum": {"year": 2025, "month": 6, "date": 5, "hours": 10, "minutes": 30}, "type": "temporal", "scale": {"domain": [{"year": 2025, "month": 1, "date": 17, "hours": 9, "minutes": 50}, {"year": 2025, "month": 6, "date": 5, "hours": 8}], "nice": false},
          "axis": {"title": null, "values": [{"year": 2025, "month": 2, "date": 1}, {"year": 2025, "month": 3, "date": 1}, {"year": 2025, "month": 4, "date": 1}, {"year": 2025, "month": 5, "date": 1}, {"year": 2025, "month": 6, "date": 1}], "format": "%b", "zindex": 1}},
        "x2": {"datum": {"year": 2025, "month": 6, "date": 13, "hours": 10, "minutes": 30}},
        "y": {"datum": 62175, "type": "quantitative", "scale": {"domain": [58370, 98203], "zero": false, "nice": false},
          "axis": {"orient": "right", "title": null, "values": [60000, 62000, 64000, 66000, 68000, 70000, 72000, 74000, 76000, 78000, 80000, 84000, 86000, 88000, 90000, 92000, 94000, 96000], "format": ",.2f", "zindex": 1}},
        "y2": {"datum": 63136}
      }
    },
    {
      "data": {"values": [{}]},
      "mark": {"type": "text", "text": "62,734.53", "font": "Inter", "fontSize": 23, "align": "left", "baseline": "alphabetic", "fill": "#ffffff"},
      "encoding": {
        "x": {"datum": {"year": 2025, "month": 6, "date": 6, "hours": 9}, "type": "temporal", "scale": {"domain": [{"year": 2025, "month": 1, "date": 17, "hours": 9, "minutes": 50}, {"year": 2025, "month": 6, "date": 5, "hours": 8}], "nice": false},
          "axis": {"title": null, "values": [{"year": 2025, "month": 2, "date": 1}, {"year": 2025, "month": 3, "date": 1}, {"year": 2025, "month": 4, "date": 1}, {"year": 2025, "month": 5, "date": 1}, {"year": 2025, "month": 6, "date": 1}], "format": "%b", "zindex": 1}},
        "y": {"datum": 62463, "type": "quantitative", "scale": {"domain": [58370, 98203], "zero": false, "nice": false},
          "axis": {"orient": "right", "title": null, "values": [60000, 62000, 64000, 66000, 68000, 70000, 72000, 74000, 76000, 78000, 80000, 84000, 86000, 88000, 90000, 92000, 94000, 96000], "format": ",.2f", "zindex": 1}}
      }
    }
  ]
}
